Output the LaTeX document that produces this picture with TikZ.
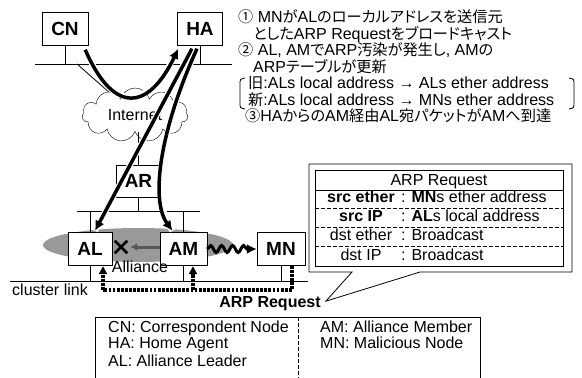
\documentclass[tikz,border=0pt]{standalone}
\usepackage{fontspec}
\setmainfont{Liberation Sans}
\newfontfamily\jp{Noto Sans CJK JP}[Scale=0.95,RawFeature=+palt]
\newcommand{\jtxt}[1]{{\jp #1}}
\usetikzlibrary{shapes.symbols,shapes.geometric,shapes.misc,decorations.pathmorphing,arrows.meta,calc,positioning}

\begin{document}
\begin{tikzpicture}[x=1pt,y=-1pt,
  box/.style={draw,fill=white,minimum width=46,minimum height=33,inner sep=0,font=\fontsize{19}{19}\selectfont\bfseries},
  lan/.style={line width=0.8pt},
  txt/.style={font=\fontsize{16}{19}\selectfont,inner sep=0},
  flow/.style={line width=3.5pt,-{Latex[length=10pt,width=10pt]},preaction={draw=white,line width=6pt,-}},
  wave/.style={line width=3pt,decorate,decoration={snake,amplitude=3.5pt,segment length=11pt,post length=9pt},-{Latex[length=10pt,width=10pt]}},
  dots/.style={line width=3.2pt,dash pattern=on 2.8pt off 1.3pt},
  dtip/.style={-{Triangle[length=8pt,width=8pt]}},
  dsh/.style={lan,dash pattern=on 4pt off 2pt}]
\useasboundingbox (0,0) rectangle (582,378);
\node[ellipse,fill=black!40,minimum width=190,minimum height=34,inner sep=0] (ally) at (138,245) {};
\node[box] (CN) at (65,29) {CN};
\node[box,minimum width=45] (HA) at (200,29) {HA};
\node[cloud,draw,fill=white,cloud puffs=11,aspect=2,minimum width=106,minimum height=54,txt] (net) at (135,115) {Internet};
\node[box,minimum width=45,minimum height=32] (AR) at (138.5,181) {AR};
\node[box,minimum width=44] (AL) at (90,248.5) {AL};
\node[box,minimum width=47] (AM) at (183.5,248.5) {AM};
\node[box,minimum width=48] (MN) at (281,249) {MN};
\coordinate (up1) at (35,64);
\coordinate (up2) at (232,64);
\coordinate (up3) at (77,64);
\coordinate (mid1) at (77,211);
\coordinate (mid2) at (200,211);
\coordinate (low1) at (10,281);
\coordinate (low2) at (308,281);
\draw[lan] (up1) -- (up2);
\draw[lan] (CN) -- (CN |- up1);
\draw[lan] (HA) -- (HA |- up1);
\draw[lan] (up3) -- (net);
\draw[lan] (AR) -- (AR |- net.south);
\draw[lan] (mid1) -- (mid2);
\draw[lan] (AR) -- (AR |- mid1);
\draw[lan] (AL) -- (AL |- mid1);
\draw[lan] (AM) -- (AM |- mid1);
\draw[lan] (low1) -- (low2);
\draw[lan] (AL) -- (AL |- low1);
\draw[lan] (AM) -- (AM |- low1);
\draw[lan] (MN) -- (MN |- low1);
\draw[flow] ($(CN.south east)+(-3,4)$) .. controls (115,118) and (150,108) .. ($(HA.south west)+(1,3)$);
\draw[flow] ($(HA.south)+(-8,3)$) -- ($(AL.north)+(5,-1)$);
\draw[flow] ($(HA.south)+(-3,3)$) .. controls (160,130) and (150,200) .. ($(AM.north)+(-11,-1)$);
\node[cross out,draw,line width=2.6pt,minimum size=10,inner sep=0] (cut) at (121,247) {};
\draw[line width=3pt,black!65,-{Latex[length=7pt,width=8pt]}] (AM.west |- cut) -- ($(cut.east)+(3,0)$);
\draw[wave] (AM.east |- MN) -- (MN.west);
\node[txt,anchor=base] (alabel) at (140,272) {Alliance};
\node[txt,anchor=base west] (clabel) at (12,295) {cluster link};
\node[txt,anchor=base,font=\fontsize{16}{19}\selectfont\bfseries] (arq) at (270,307) {ARP Request};
\coordinate (rq) at (103,290);
\draw[dots] ($(MN.south)+(11,0)$) |- (rq);
\draw[dots,dtip] (rq) -- ($(AL.south)+(13,1)$);
\draw[dots,dtip] ($(AM.south)+(9.5,25)$) -- ($(AM.south)+(9.5,1)$);
\coordinate (tip) at ($(arq.east)+(5,-2)$);
\draw[lan,fill=white] (309,164) -- (572,164) -- (572,272) -- (420,272) -- (tip) -- (352,272) -- (309,272) -- cycle;
\draw[lan] (315,170) rectangle (563,266);
\draw[lan] (315,190) -- (563,190);
\foreach \y in {208,227,246}
  \draw[dsh] (315,\y) -- (563,\y);
\node[txt,anchor=base] (hd) at (439,185) {ARP Request};
\node[txt,anchor=base] (k1) at (361,202) {\bfseries src ether};
\node[txt,anchor=base] (k2) at (361,221.5) {\bfseries src IP};
\node[txt,anchor=base] (k3) at (361,240.5) {dst ether};
\node[txt,anchor=base] (k4) at (361,260) {dst IP};
\node[txt,anchor=base west] (v1) at (401,202) {: \textbf{MN}s ether address};
\node[txt,anchor=base west] (v2) at (401,221.5) {: \textbf{AL}s local address};
\node[txt,anchor=base west] (v3) at (401,240.5) {: Broadcast};
\node[txt,anchor=base west] (v4) at (401,260) {: Broadcast};
\draw[lan] (95,378) |- (480,317) -- (480,378);
\draw[dsh] (298,317) -- (298,378);
\node[txt,anchor=base west] (g1) at (108,332) {CN: Correspondent Node};
\node[txt,anchor=base west] (g2) at (108,348.5) {HA: Home Agent};
\node[txt,anchor=base west] (g3) at (108,366.5) {AL: Alliance Leader};
\node[txt,anchor=base west] (g4) at (320,332) {AM: Alliance Member};
\node[txt,anchor=base west] (g5) at (320,348.5) {MN: Malicious Node};
\node[txt,anchor=base west] (note1) at (238,22.5) {\jtxt{①} MN\jtxt{が}AL\jtxt{のローカルアドレスを送信元}};
\node[txt,anchor=base west] (note2) at (253,39) {\jtxt{とした}ARP Request\jtxt{をブロードキャスト}};
\node[txt,anchor=base west] (note3) at (238,55.5) {\jtxt{②} AL, AM\jtxt{で}ARP\jtxt{汚染が発生し}, AM\jtxt{の}};
\node[txt,anchor=base west] (note4) at (253,72) {ARP\jtxt{テーブルが更新}};
\node[txt,anchor=base west] (note5) at (248,88.5) {\jtxt{旧}:ALs local address → ALs ether address};
\node[txt,anchor=base west] (note6) at (248,105) {\jtxt{新}:ALs local address → MNs ether address};
\node[txt,anchor=base west] (note7) at (245,121.5) {\jtxt{③}HA\jtxt{からの}AM\jtxt{経由}AL\jtxt{宛パケットが}AM\jtxt{へ到達}};
\draw[lan] (245,78) .. controls (240,79) .. (240,85) -- (240,102) .. controls (240,108) .. (245,109);
\draw[lan] (569,78) .. controls (574,79) .. (574,85) -- (574,102) .. controls (574,108) .. (569,109);
\end{tikzpicture}
\end{document}
